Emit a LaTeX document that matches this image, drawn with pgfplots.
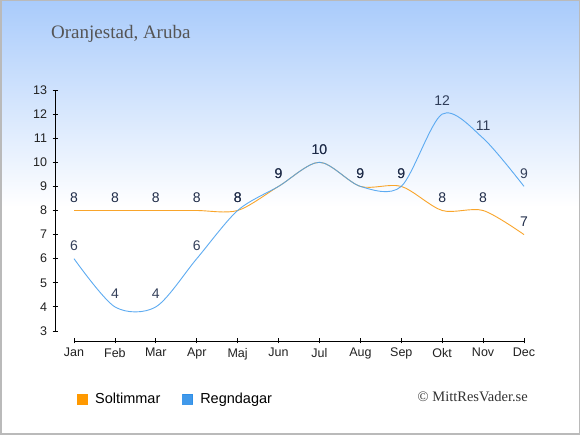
\documentclass[border=0pt]{standalone}
\usepackage{pgfplots}
\pgfplotsset{compat=1.18}
\usepackage{fontspec}
\setmainfont{Liberation Sans}
\newfontfamily\seriffont{Liberation Serif}
\definecolor{topblue}{HTML}{A9CBFB}
\definecolor{solline}{HTML}{F9A52B}
\definecolor{regnline}{HTML}{4DA3F0}
\definecolor{solsq}{HTML}{FF9900}
\definecolor{regnsq}{HTML}{2D8FE8}
\definecolor{lbl}{HTML}{1E2B48}
\definecolor{titlegray}{HTML}{555555}
\begin{document}
\begin{tikzpicture}[x=1pt,y=1pt]
\fill[white] (0,0) rectangle (580,435);
\shade[top color=topblue, bottom color=white] (0,228) rectangle (580,435);
\draw[black!27, line width=1.5pt] (0.75,0.75) rectangle (579.25,434.25);
\node[anchor=base west, inner sep=0pt, text=titlegray, font=\seriffont\fontsize{19}{21}\selectfont] at (51,396) {Oranjestad, Aruba};
\node[anchor=east, inner sep=0pt, text=black!80, font=\seriffont\fontsize{14.5}{16}\selectfont] at (528,38) {© MittResVader.se};
\begin{axis}[
  at={(55pt,94pt)}, anchor=south west, scale only axis,
  width=469pt, height=251pt,
  xmin=-0.465, xmax=11, ymin=2.585, ymax=13,
  axis line style={draw=none},
  major tick length=5pt,
  tick align=center,
  xtick pos=left, ytick pos=left,
  tick style={black, line width=0.8pt},
  xtick={0,...,11},
  xticklabels={Jan,Feb,Mar,Apr,Maj,Jun,Jul,Aug,Sep,Okt,Nov,Dec},
  ytick={3,...,13},
  /pgf/number format/assume math mode=true,
  tick label style={font=\fontsize{12.5}{14}\selectfont, text=black!87},
  xticklabel style={yshift=-1pt},
  yticklabel style={xshift=-2pt},
  clip=false,
  nodes near coords,
  point meta=explicit symbolic,
  every node near coord/.append style={anchor=center, yshift=13pt, text=lbl, font=\fontsize{14}{16}\selectfont},
  legend style={at={(0.0469,-0.231)}, anchor=west, draw=none, fill=none, inner sep=0pt,
    font=\fontsize{14.5}{16}\selectfont, /tikz/every even column/.append style={column sep=20pt}},
  legend columns=2,
]
\draw[black, line width=0.8pt] (axis cs:-0.465,3) -- (axis cs:-0.465,13);
\draw[black, line width=0.8pt] (axis cs:0,2.585) -- (axis cs:11,2.585);
\addplot[solline, line width=0.9pt, smooth, mark=none,
  legend image code/.code={\fill[solsq] (0pt,-5pt) rectangle (10pt,5pt); \path (15pt,0pt);}]
  table[meta index=2] {
x y m
0 8 8
1 8 8
2 8 8
3 8 8
4 8 8
5 9 9
6 10 10
7 9 9
8 9 9
9 8 8
10 8 8
11 7 7
};
\addlegendentry{Soltimmar}
\addplot[regnline, line width=0.9pt, smooth, mark=none, opacity=0.9,
  legend image code/.code={\fill[regnsq] (0pt,-5pt) rectangle (10pt,5pt); \path (15pt,0pt);}]
  table[meta index=2] {
x y m
0 6 6
1 4 4
2 4 4
3 6 6
4 8 8
5 9 9
6 10 10
7 9 9
8 9 9
9 12 12
10 11 11
11 9 9
};
\addlegendentry{Regndagar}
\end{axis}
\pgfresetboundingbox
\path (0,0) rectangle (580,435);
\end{tikzpicture}
\end{document}
